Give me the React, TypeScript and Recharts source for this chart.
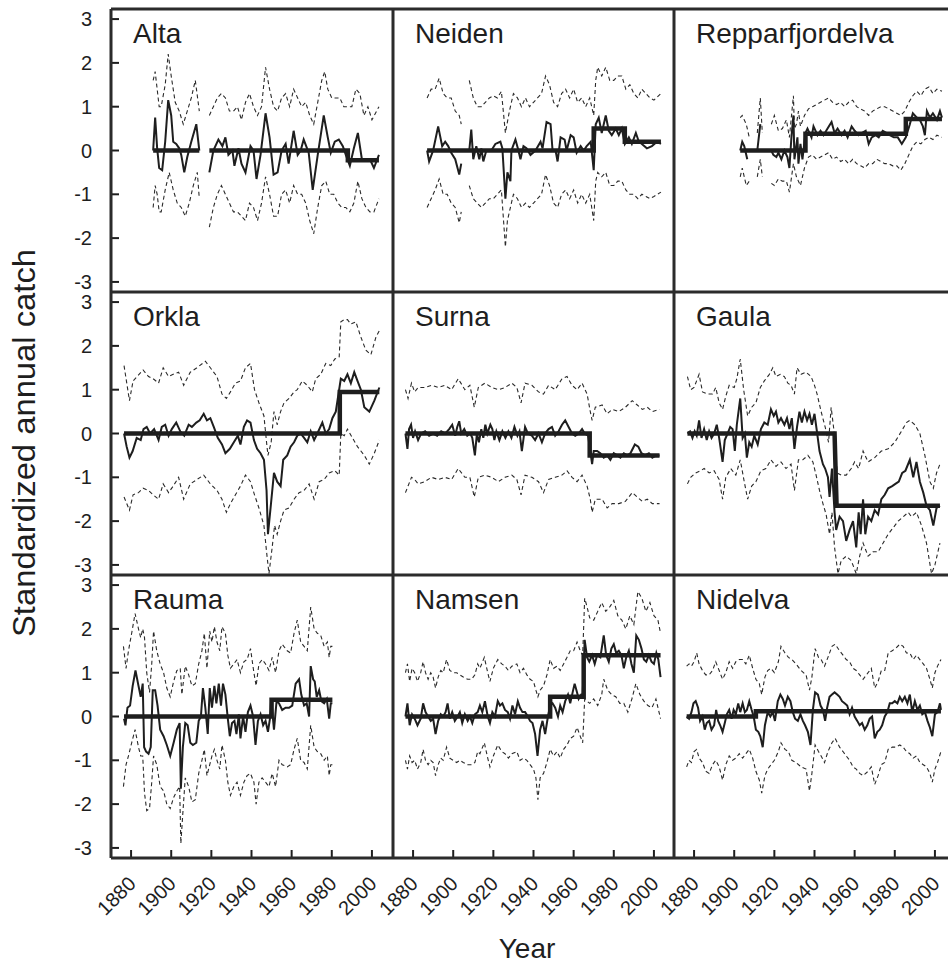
import { LineChart, Line, XAxis, YAxis } from "recharts";

type Pt = [number, number | null];

const INK = "#1e1e1e";
const FONT = "'Liberation Sans', Arial, Helvetica, sans-serif";

const YEAR_TICKS = [1880, 1900, 1920, 1940, 1960, 1980, 2000];
const CATCH_TICKS = [-3, -2, -1, 0, 1, 2, 3];

// Alta
const altaObs: Pt[] = [
  [1891, 0.0], [1892, 0.75], [1893, 0.05], [1894, -0.4], [1895.5, -0.45], [1897, 0.2], [1898.5, 1.15], [1900, 0.8],
  [1901, 0.2], [1902.5, 0.15], [1904, 0.05], [1905, -0.1], [1906.5, -0.5], [1908, -0.15], [1910, 0.2], [1912.5, 0.6],
  [1914, 0.0], [1916, null],
  [1919, -0.5], [1921, 0.0], [1923.5, 0.25], [1925.5, 0.1], [1927, 0.3], [1928.5, -0.1], [1930.5, 0.0], [1931.5, -0.35],
  [1933.5, 0.05], [1935, -0.3], [1937, -0.5], [1939.5, 0.1], [1941, 0.0], [1942.5, -0.65], [1944.5, -0.1], [1947, 0.85],
  [1949, 0.3], [1951, -0.55], [1953, -0.5], [1955, 0.0], [1957, 0.15], [1958.5, -0.3], [1961, 0.45], [1963, -0.1],
  [1964.5, 0.0], [1966, 0.25], [1968.5, -0.05], [1970.5, -0.9], [1973, -0.1], [1976, 0.8], [1978, 0.3], [1979.5, -0.05],
  [1981.5, 0.2], [1983.5, 0.25], [1985.5, 0.1], [1987, -0.1], [1989, -0.35], [1991, 0.05], [1993, 0.4], [1995, -0.2],
  [1997, -0.2], [1999, -0.2], [2001, -0.4], [2003.5, -0.1],
];
const altaFit: Pt[] = [[1891, 0], [1914, 0], [1916, null], [1919, 0], [1988, 0], [1988, -0.22], [2003.5, -0.22]];
const altaHi: Pt[] = [
  [1891, 1.6], [1892, 1.8], [1894, 1.0], [1895, 1.0], [1897, 1.5], [1898.5, 2.2], [1900, 1.7], [1902, 1.1], [1904, 0.9],
  [1906, 0.6], [1908, 0.9], [1910, 1.2], [1912, 1.6], [1914, 0.9], [1916, null],
  [1919, 0.8], [1921, 1.0], [1923, 1.2], [1925, 1.3], [1927, 1.2], [1929, 0.9], [1931, 0.9], [1933, 1.0], [1935, 0.7],
  [1937, 1.1], [1939, 1.3], [1941, 1.0], [1943, 0.8], [1945, 1.0], [1947, 1.9], [1949, 1.4], [1951, 1.0], [1953, 0.9],
  [1955, 1.2], [1957, 1.3], [1959, 1.0], [1961, 1.4], [1963, 1.2], [1965, 1.0], [1967, 1.1], [1969, 0.8], [1971, 0.6],
  [1973, 1.1], [1975, 1.6], [1976.5, 1.8], [1978, 1.4], [1980, 1.2], [1982, 1.2], [1984, 1.2], [1986, 1.0], [1988, 1.0],
  [1990, 1.0], [1992, 1.4], [1994, 1.3], [1996, 0.8], [1998, 1.0], [2000, 0.7], [2003.5, 1.0],
];
const altaLo: Pt[] = [
  [1891, -1.3], [1892, -0.8], [1893, -1.0], [1894, -1.4], [1895, -1.4], [1897, -0.9], [1899, -0.5], [1901, -0.9],
  [1903, -1.2], [1905, -1.3], [1907, -1.5], [1909, -1.2], [1911, -0.8], [1913, -0.5], [1914, -1.1], [1916, null],
  [1919, -1.75], [1921, -1.3], [1923, -1.0], [1925, -0.8], [1927, -1.0], [1929, -1.2], [1931, -1.4], [1933, -1.4],
  [1935, -1.5], [1937, -1.6], [1939, -1.2], [1941, -1.3], [1943, -1.6], [1945, -1.2], [1947, -0.6], [1949, -1.0],
  [1951, -1.5], [1953, -1.5], [1955, -1.0], [1957, -0.9], [1959, -1.2], [1961, -0.8], [1963, -1.0], [1965, -1.0],
  [1967, -1.2], [1969, -1.6], [1971, -1.9], [1973, -1.3], [1975, -0.8], [1977, -0.7], [1979, -1.0], [1981, -1.0],
  [1983, -1.2], [1985, -1.3], [1987, -1.3], [1989, -1.4], [1991, -1.2], [1993, -0.7], [1995, -1.1], [1997, -1.3],
  [1999, -1.4], [2001, -1.4], [2003.5, -1.1],
];

// Neiden
const neidenObs: Pt[] = [
  [1887, 0.0], [1888, -0.25], [1890, 0.0], [1892.5, 0.55], [1894.5, 0.1], [1896, 0.2], [1897.5, 0.1], [1899, -0.05],
  [1901, -0.2], [1903, -0.55], [1904, -0.3], [1906, null], [1908, 0.0], [1909, 0.48], [1910, -0.2], [1911.5, 0.1],
  [1913, -0.2], [1914, 0.05], [1915, -0.25], [1916.5, 0.0], [1919, 0.0], [1921, 0.15], [1923.5, 0.2], [1924.5, 0.05],
  [1926, -1.1], [1927, -0.5], [1928.5, -0.7], [1929, 0.0], [1931, 0.25], [1932.5, 0.0], [1933.5, -0.2], [1935, 0.1],
  [1936.5, 0.05], [1938.5, -0.1], [1941, 0.0], [1943.5, 0.2], [1944.5, 0.05], [1946.5, 0.65], [1948.5, 0.6],
  [1949.5, 0.0], [1951, 0.0], [1952, -0.25], [1953.5, 0.3], [1955.5, 0.25], [1956.5, 0.0], [1958.5, 0.35], [1960, 0.3],
  [1961.5, -0.05], [1963.5, 0.1], [1965, 0.0], [1966.5, 0.1], [1968.5, 0.2], [1970, -0.45], [1971, 0.6], [1972.5, 0.75],
  [1974, 0.4], [1976, 0.8], [1977.5, 0.45], [1979, 0.35], [1981, 0.5], [1982.5, 0.35], [1984, 0.5], [1985.5, 0.15],
  [1987.5, 0.3], [1989, 0.15], [1991, 0.4], [1992.5, 0.2], [1994, 0.15], [1996.5, 0.05], [1999, 0.1], [2001.5, 0.2],
  [2003.5, 0.15],
];
const neidenFit: Pt[] = [[1887, 0], [1970, 0], [1970, 0.5], [1985.5, 0.5], [1985.5, 0.2], [2003.5, 0.2]];
const neidenHi: Pt[] = [
  [1887, 1.2], [1889, 1.4], [1891, 1.4], [1893, 1.65], [1895, 1.3], [1897, 1.2], [1899, 1.2], [1901, 0.9], [1903, 0.8],
  [1904, 0.6], [1906, null], [1908, 1.6], [1910, 1.2], [1912, 1.0], [1914, 1.0], [1916, 1.1], [1918, 1.2], [1920, 1.25],
  [1922, 1.2], [1924, 1.35], [1926, 0.4], [1928, 0.9], [1930, 1.3], [1932, 1.2], [1934, 1.0], [1936, 1.2], [1938, 1.0],
  [1940, 1.1], [1942, 1.2], [1944, 1.3], [1946, 1.7], [1948, 1.5], [1950, 1.1], [1952, 1.0], [1954, 1.3], [1956, 1.4],
  [1958, 1.2], [1960, 1.4], [1962, 1.1], [1964, 1.2], [1966, 1.0], [1968, 1.2], [1970, 0.8], [1971, 1.6], [1972, 1.9],
  [1974, 1.7], [1976, 1.9], [1978, 1.6], [1980, 1.6], [1982, 1.7], [1984, 1.7], [1986, 1.4], [1988, 1.5], [1990, 1.3],
  [1992, 1.2], [1994, 1.4], [1996, 1.3], [1998, 1.2], [2000, 1.15], [2003.5, 1.3],
];
const neidenLo: Pt[] = [
  [1887, -1.3], [1889, -1.1], [1891, -0.9], [1893, -0.65], [1895, -1.0], [1897, -1.0], [1899, -1.2], [1901, -1.3],
  [1903, -1.65], [1904, -1.4], [1906, null], [1908, -0.8], [1910, -1.1], [1912, -1.2], [1914, -1.3], [1916, -1.2],
  [1918, -1.1], [1920, -1.1], [1922, -1.0], [1924, -0.9], [1926, -2.2], [1927, -1.6], [1928, -1.4], [1930, -1.0],
  [1932, -1.1], [1934, -1.3], [1936, -1.2], [1938, -1.3], [1940, -1.2], [1942, -1.1], [1944, -1.0], [1946, -0.55],
  [1948, -0.8], [1950, -1.2], [1952, -1.3], [1954, -1.0], [1956, -0.9], [1958, -1.1], [1960, -0.9], [1962, -1.2],
  [1964, -1.0], [1966, -1.2], [1968, -1.0], [1970, -1.6], [1971, -0.7], [1972, -0.5], [1974, -0.6], [1976, -0.5],
  [1978, -0.8], [1980, -0.8], [1982, -0.7], [1984, -0.7], [1986, -0.9], [1988, -1.0], [1990, -1.0], [1992, -1.1],
  [1994, -1.0], [1996, -1.05], [1998, -1.1], [2000, -1.05], [2003.5, -0.95],
];

// Repparfjordelva
const reppObs: Pt[] = [
  [1903, 0.0], [1904, 0.2], [1905, 0.1], [1906.5, -0.2], [1908, null], [1911.5, 0.0], [1913, 0.6], [1914, null],
  [1918.5, 0.0], [1919.5, -0.1], [1921, -0.15], [1922, -0.05], [1923.5, -0.2], [1925, 0.0], [1926.5, -0.15],
  [1927.5, -0.4], [1928.5, 0.3], [1929.5, 0.8], [1930, -0.2], [1931.5, 0.3], [1932, -0.3], [1933, 0.15], [1934, -0.2],
  [1935.5, 0.4], [1936.5, 0.5], [1938.5, 0.3], [1939.5, 0.55], [1941.5, 0.35], [1943, 0.45], [1944.5, 0.35],
  [1946.5, 0.5], [1948.5, 0.65], [1950, 0.4], [1951.5, 0.5], [1953.5, 0.35], [1955, 0.45], [1956.5, 0.3],
  [1958.5, 0.55], [1960, 0.45], [1962, 0.35], [1963.5, 0.4], [1965.5, 0.45], [1967, 0.15], [1968.5, 0.3],
  [1970.5, 0.35], [1972, 0.3], [1974, 0.45], [1976, 0.4], [1977.5, 0.35], [1979.5, 0.3], [1981.5, 0.3], [1983.5, 0.15],
  [1985.5, 0.3], [1987.5, 0.6], [1989, 0.85], [1991, 0.75], [1992.5, 0.7], [1994, 0.55], [1995, 0.35], [1996, 0.9],
  [1997.5, 0.75], [1999, 0.85], [2001, 0.7], [2002.5, 0.9], [2003.5, 0.75],
];
const reppFit: Pt[] = [[1903, 0], [1935.5, 0], [1935.5, 0.38], [1985.5, 0.38], [1985.5, 0.72], [2003.5, 0.72]];
const reppHi: Pt[] = [
  [1903, 0.75], [1904, 0.8], [1906, 0.6], [1907.5, 0.3], [1909, null], [1911.5, 0.4], [1913, 1.2], [1914, 0.4],
  [1916, null], [1918.5, 0.6], [1920, 0.8], [1922, 0.45], [1924, 0.5], [1926, 0.7], [1927.5, 0.3], [1929.5, 1.25],
  [1930, 0.5], [1931, 0.6], [1932, 0.9], [1933, 0.55], [1935, 0.8], [1937, 0.95], [1939, 1.0], [1941, 1.05],
  [1943, 1.1], [1945, 1.15], [1947, 1.2], [1949, 1.1], [1951, 1.05], [1953, 1.1], [1955, 1.0], [1957, 1.1],
  [1959, 1.15], [1961, 1.0], [1963, 0.95], [1965, 0.9], [1967, 0.8], [1969, 0.9], [1971, 0.95], [1973, 1.0],
  [1975, 1.0], [1977, 0.95], [1979, 0.9], [1981, 0.85], [1983, 0.8], [1985, 0.9], [1987, 1.1], [1989, 1.25],
  [1991, 1.35], [1993, 1.25], [1995, 1.4], [1997, 1.45], [1999, 1.3], [2001, 1.4], [2003.5, 1.35],
];
const reppLo: Pt[] = [
  [1903, -0.6], [1904, -0.4], [1905, -0.6], [1906, -0.8], [1907.5, -0.7], [1909, null], [1911.5, -0.6], [1913, -0.2],
  [1914, -0.6], [1916, null], [1918.5, -0.75], [1920, -0.8], [1922, -0.65], [1924, -0.7], [1926, -0.7],
  [1927.5, -0.95], [1929.5, -0.3], [1931, -0.6], [1933, -0.8], [1935, -0.4], [1937, -0.15], [1939, -0.1],
  [1941, -0.2], [1943, -0.15], [1945, -0.1], [1947, -0.05], [1949, -0.2], [1951, -0.15], [1953, -0.25], [1955, -0.2],
  [1957, -0.3], [1959, -0.2], [1961, -0.3], [1963, -0.35], [1965, -0.4], [1967, -0.3], [1969, -0.3], [1971, -0.2],
  [1973, -0.25], [1975, -0.3], [1977, -0.3], [1979, -0.35], [1981, -0.35], [1983, -0.45], [1985, -0.3], [1987, -0.1],
  [1989, 0.1], [1991, 0.2], [1993, 0.15], [1995, 0.25], [1997, 0.3], [1999, 0.25], [2001, 0.35], [2003.5, 0.3],
];

// Orkla
const orklaObs: Pt[] = [
  [1876.5, 0.0], [1877.8, -0.3], [1879.2, -0.55], [1880.8, -0.4], [1882.8, -0.1], [1884.8, -0.15], [1886.2, 0.1],
  [1887.8, 0.15], [1889.5, 0.0], [1891.5, 0.1], [1893.7, -0.15], [1895.3, 0.15], [1897, 0.2], [1898.7, -0.05],
  [1900.3, 0.1], [1902.5, 0.25], [1904.5, 0.05], [1906.5, -0.05], [1908.7, 0.2], [1910.3, 0.15], [1912.5, 0.25],
  [1914.2, 0.3], [1916.2, 0.45], [1917.8, 0.3], [1919.5, 0.35], [1921.2, 0.15], [1923.2, -0.1], [1925.3, -0.25],
  [1927, -0.45], [1929.2, -0.35], [1931.2, -0.2], [1933.2, -0.05], [1934.5, -0.25], [1936.2, 0.15], [1937.8, 0.3],
  [1939.5, 0.25], [1941.2, -0.15], [1942.8, -0.35], [1944.5, -0.45], [1946.2, -0.6], [1947.5, -1.3], [1948.2, -2.3],
  [1949.5, -1.7], [1951.2, -0.9], [1952.8, -1.1], [1954.5, -1.2], [1955.8, -0.6], [1957.8, -0.5], [1959.5, -0.3],
  [1961.2, -0.2], [1962.8, -0.05], [1964.5, 0.0], [1966.2, -0.1], [1967.8, -0.2], [1969.5, 0.05], [1971.2, -0.15],
  [1972.8, 0.0], [1975.3, 0.25], [1977, 0.0], [1978.7, 0.1], [1980.3, 0.35], [1982, 0.5], [1984.5, 1.25],
  [1986.2, 1.2], [1987.8, 1.35], [1989.5, 1.15], [1991.2, 1.4], [1992.8, 1.2], [1994.5, 1.0], [1996.2, 0.6],
  [1998.7, 0.5], [2001.2, 0.75], [2003.7, 1.05],
];
const orklaFit: Pt[] = [[1876.5, 0], [1984, 0], [1984, 0.95], [2003.7, 0.95]];
const orklaHi: Pt[] = [
  [1876.5, 1.55], [1879.2, 0.75], [1881, 1.2], [1883, 1.3], [1886, 1.45], [1888.7, 1.3], [1891, 1.25], [1893.7, 1.15],
  [1896, 1.5], [1898.7, 1.3], [1901, 1.35], [1903.7, 1.4], [1906.2, 1.1], [1909.5, 1.4], [1912.8, 1.5], [1917, 1.65],
  [1919.5, 1.5], [1922.8, 1.3], [1925.3, 0.9], [1927.5, 0.8], [1929.5, 0.95], [1932, 1.15], [1934.5, 1.2],
  [1937, 1.5], [1939.5, 1.6], [1941.5, 1.0], [1943.7, 0.7], [1946.2, 0.4], [1947.5, -0.2], [1948.2, -0.5],
  [1949.8, -0.2], [1951.2, 0.5], [1952.8, 0.2], [1954.5, 0.5], [1956.2, 0.7], [1958.7, 0.8], [1961.2, 0.95],
  [1962.8, 1.0], [1965.3, 1.2], [1967.8, 1.1], [1970.3, 0.95], [1972, 1.25], [1974.5, 1.35], [1977, 1.6],
  [1979.5, 1.55], [1981.5, 1.7], [1983.7, 1.75], [1984.5, 2.55], [1986.2, 2.6], [1987.8, 2.6], [1989.5, 2.5],
  [1992, 2.55], [1994.5, 2.2], [1997, 1.9], [1999.5, 1.8], [2002, 2.2], [2003.7, 2.35],
];
const orklaLo: Pt[] = [
  [1876.5, -1.45], [1879.2, -1.75], [1881, -1.4], [1883.7, -1.35], [1886, -1.25], [1888.7, -1.3], [1891, -1.4],
  [1893.7, -1.5], [1896, -1.15], [1898.7, -1.35], [1901, -1.2], [1903.7, -1.0], [1906.2, -1.5], [1909.5, -1.15],
  [1912.8, -1.05], [1916.2, -0.95], [1919.5, -1.15], [1922.8, -1.3], [1925.3, -1.5], [1927.5, -1.8], [1929.5, -1.6],
  [1932, -1.4], [1934.5, -1.2], [1937, -0.95], [1939.5, -1.1], [1941.5, -1.4], [1943.7, -1.7], [1946.2, -2.1],
  [1947.5, -2.7], [1948.7, -3.2], [1950.3, -2.6], [1951.5, -2.1], [1952.8, -2.3], [1954.5, -2.0], [1956.2, -1.75],
  [1958.7, -1.7], [1961.2, -1.5], [1963.7, -1.35], [1966.2, -1.3], [1968.7, -1.15], [1971.2, -1.5], [1973.7, -1.1],
  [1976.2, -1.05], [1978.7, -0.9], [1981.5, -0.85], [1983.7, -0.95], [1984.5, 0.0], [1986.2, -0.05], [1987.8, 0.1],
  [1990.3, -0.1], [1992.8, -0.3], [1996.2, -0.5], [1998.7, -0.7], [2001.2, -0.45], [2003.7, -0.15],
];

// Surna
const surnaObs: Pt[] = [
  [1876.2, 0.0], [1877.2, -0.35], [1878, 0.1], [1879, 0.2], [1880, -0.1], [1881, 0.05], [1882.5, -0.15], [1884, 0.0],
  [1886, 0.05], [1888, -0.05], [1890, 0.0], [1892, -0.05], [1894, 0.05], [1896, 0.0], [1898, 0.1], [1899.5, 0.2],
  [1901, -0.05], [1902, 0.15], [1903, 0.28], [1904, 0.0], [1905.5, 0.1], [1907, -0.05], [1908.5, 0.0], [1909.5, -0.1],
  [1910.8, -0.5], [1911.8, 0.0], [1912.8, -0.2], [1914, 0.1], [1915, -0.1], [1916, 0.2], [1917, 0.0], [1918.5, 0.2],
  [1919.5, 0.1], [1920.5, -0.15], [1921.5, 0.05], [1923, -0.15], [1924.5, 0.05], [1926, -0.1], [1927.5, 0.05],
  [1929, -0.1], [1930.5, 0.15], [1932, -0.05], [1933, 0.05], [1934.2, -0.4], [1935.8, 0.15], [1937.2, 0.0],
  [1939.2, -0.05], [1940.8, -0.15], [1942.5, 0.0], [1944.2, -0.2], [1945.8, 0.0], [1947.5, 0.1], [1949.2, 0.15],
  [1950.8, -0.05], [1952.5, 0.05], [1954.2, 0.2], [1955.8, 0.3], [1957.5, 0.15], [1959.2, 0.0], [1960.8, -0.05],
  [1962.5, 0.0], [1964.2, 0.1], [1965.5, 0.0], [1967.2, -0.05], [1968.3, -0.4], [1969.2, -0.7], [1970, -0.4],
  [1971.7, -0.4], [1973.3, -0.45], [1975, -0.55], [1976.7, -0.5], [1978.3, -0.6], [1980, -0.45], [1981.7, -0.5],
  [1983.3, -0.55], [1985, -0.45], [1986.7, -0.5], [1988.3, -0.45], [1990.5, -0.25], [1992.2, -0.3], [1993.8, -0.45],
  [1995.5, -0.5], [1997.5, -0.45], [1999.2, -0.55], [2001.2, -0.5], [2002.8, -0.5],
];
const surnaFit: Pt[] = [[1876.2, 0], [1968, 0], [1968, -0.5], [2002.8, -0.5]];
const surnaHi: Pt[] = [
  [1876.2, 1.0], [1877.5, 0.8], [1879.2, 1.15], [1880.8, 0.95], [1882.5, 1.05], [1885.8, 1.05], [1889.2, 1.1],
  [1892.5, 1.05], [1895.8, 1.1], [1899.2, 1.0], [1902.5, 1.25], [1905.8, 1.0], [1908.3, 1.1], [1910.5, 0.6],
  [1912.5, 1.05], [1915.8, 1.15], [1919.2, 1.05], [1922.5, 1.0], [1925.8, 1.05], [1929.2, 1.15], [1931.7, 1.05],
  [1933.8, 0.7], [1935.8, 1.15], [1939.2, 1.1], [1942.5, 0.95], [1945, 0.9], [1947.5, 1.1], [1950.8, 1.0],
  [1954.2, 1.25], [1956.7, 1.3], [1959.2, 1.1], [1961.7, 1.0], [1964.2, 1.15], [1966.7, 0.9], [1968.3, 0.5],
  [1969.2, 0.3], [1970.8, 0.6], [1974.2, 0.65], [1976.7, 0.45], [1979.2, 0.55], [1982.5, 0.5], [1985.8, 0.6],
  [1989.2, 0.75], [1991.7, 0.65], [1994.2, 0.55], [1996.7, 0.6], [1999.2, 0.5], [2002.8, 0.55],
];
const surnaLo: Pt[] = [
  [1876.2, -1.35], [1877.5, -1.2], [1879.2, -1.0], [1880.8, -1.05], [1882.5, -1.15], [1885.8, -1.1], [1889.2, -1.0],
  [1892.5, -1.05], [1895.8, -1.0], [1899.2, -1.05], [1902.5, -0.8], [1905.8, -1.0], [1908.3, -1.0], [1910.5, -1.45],
  [1912.5, -1.0], [1915.8, -0.95], [1919.2, -1.0], [1922.5, -1.1], [1925.8, -1.0], [1929.2, -0.95], [1931.7, -1.05],
  [1933.8, -1.4], [1935.8, -0.95], [1939.2, -1.0], [1942.5, -1.1], [1945, -1.35], [1947.5, -1.05], [1950.8, -1.0],
  [1954.2, -0.95], [1956.7, -0.85], [1959.2, -1.0], [1961.7, -1.1], [1964.2, -0.95], [1966.7, -1.2], [1968.3, -1.5],
  [1969.2, -1.8], [1970.8, -1.5], [1974.2, -1.5], [1976.7, -1.7], [1979.2, -1.6], [1982.5, -1.6], [1985.8, -1.55],
  [1989.2, -1.35], [1991.7, -1.45], [1994.2, -1.55], [1996.7, -1.5], [1999.2, -1.6], [2002.8, -1.6],
];

// Gaula
const gaulaObs: Pt[] = [
  [1876.7, 0.0], [1878, 0.05], [1879.2, -0.1], [1880.3, 0.05], [1881.3, -0.05], [1882.5, 0.3], [1883.7, -0.1],
  [1885, 0.1], [1886.3, -0.15], [1887.5, 0.05], [1888.7, -0.1], [1890, 0.0], [1891.3, 0.2], [1892.5, -0.1],
  [1894.2, -0.65], [1895.3, -0.15], [1896.7, 0.0], [1898, 0.15], [1899.2, 0.1], [1900.3, -0.4], [1901.3, 0.2],
  [1903, 0.8], [1904.2, -0.1], [1905.3, 0.0], [1906.3, -0.55], [1907.5, -0.2], [1908.7, -0.3], [1910, -0.05],
  [1911.7, -0.25], [1913.3, 0.1], [1915, 0.25], [1916.7, 0.2], [1918.3, 0.55], [1919.7, 0.4], [1920.8, 0.5],
  [1922, 0.25], [1923.3, 0.35], [1925, 0.2], [1926.3, 0.35], [1927.5, 0.1], [1928.7, 0.35], [1930, -0.35],
  [1931.3, 0.15], [1932.5, 0.5], [1933.7, 0.25], [1935, 0.5], [1936.3, 0.3], [1937.5, 0.45], [1938.7, 0.2],
  [1940, 0.45], [1941.2, 0.05], [1942.5, -0.4], [1944.2, -0.7], [1945.3, -0.8], [1946.7, -1.0], [1947.5, -1.45],
  [1948.7, -0.8], [1950, -1.8], [1950.8, -2.2], [1952.5, -1.9], [1954.2, -2.0], [1955.8, -2.45], [1957.5, -2.2],
  [1959.2, -2.0], [1960.8, -2.6], [1962, -1.8], [1963, -2.3], [1964.2, -1.5], [1965.3, -2.3], [1966.7, -1.9],
  [1968.3, -2.0], [1970, -1.75], [1971.7, -1.85], [1973.3, -1.5], [1975, -1.4], [1976.7, -1.25], [1978.7, -1.2],
  [1980.3, -1.15], [1982, -1.1], [1983.7, -0.9], [1985.3, -0.85], [1987.5, -0.6], [1989.2, -1.0], [1990.8, -0.65],
  [1992.5, -1.1], [1994.2, -1.35], [1995.8, -1.65], [1997.5, -1.75], [1999.2, -2.1], [2000.8, -1.7], [2002.5, -1.65],
];
const gaulaFit: Pt[] = [[1876.7, 0], [1950, 0], [1951, -1.65], [2002.5, -1.65]];
const gaulaHi: Pt[] = [
  [1876.7, 1.3], [1878.3, 1.0], [1880, 1.05], [1882.5, 1.35], [1884.2, 0.95], [1886.7, 0.9], [1889.2, 0.9],
  [1890.8, 1.05], [1892.5, 0.7], [1894.2, 0.55], [1895.8, 0.85], [1897.5, 1.1], [1900, 1.05], [1901.3, 1.25],
  [1903, 1.7], [1904.7, 1.0], [1906.7, 0.4], [1908.7, 0.6], [1910.8, 0.7], [1913, 1.05], [1915, 1.2], [1917.5, 1.35],
  [1919.2, 1.5], [1920.8, 1.3], [1923, 1.35], [1925, 1.3], [1926.7, 1.15], [1928.3, 1.1], [1930, 0.9], [1931.3, 1.5],
  [1933.3, 1.35], [1935.8, 1.4], [1938.3, 1.3], [1940, 1.1], [1941.3, 0.9], [1943.3, 0.5], [1945.3, 0.15],
  [1947, -0.2], [1948.3, 0.6], [1950, -0.05], [1951.3, -0.9], [1953.3, -0.95], [1955.8, -0.95], [1958.3, -0.8],
  [1960, -0.65], [1962, -0.8], [1964.2, -0.4], [1966.7, -0.65], [1970, -0.55], [1973.3, -0.4], [1976.7, -0.35],
  [1980, -0.2], [1983.3, 0.05], [1985.8, 0.25], [1987.5, 0.3], [1990, 0.2], [1992.5, 0.0], [1995, -0.5],
  [1997.5, -1.1], [1999.2, -1.25], [2000.8, -0.9], [2002.5, -0.7],
];
const gaulaLo: Pt[] = [
  [1876.7, -1.15], [1878.3, -1.0], [1880.8, -0.9], [1883.3, -0.85], [1885, -0.8], [1887.5, -0.9], [1890, -0.85],
  [1892.5, -1.05], [1894.2, -1.5], [1895.8, -1.0], [1898.3, -0.8], [1900.8, -0.95], [1903, -0.6], [1905, -1.1],
  [1906.7, -1.5], [1908.7, -1.2], [1910.8, -1.1], [1913.3, -0.85], [1915.8, -0.8], [1918.3, -0.6], [1920.8, -0.75],
  [1923.3, -0.65], [1925.8, -0.8], [1928.3, -0.7], [1930, -1.3], [1932, -0.6], [1934.2, -0.6], [1936.7, -0.5],
  [1939.2, -0.65], [1940.8, -0.95], [1942.5, -1.3], [1944.2, -1.6], [1945.8, -1.85], [1947.5, -2.3], [1948.7, -1.8],
  [1950, -2.6], [1951.7, -3.2], [1953.3, -2.9], [1955.8, -2.8], [1958.3, -2.9], [1960.8, -3.2], [1962.5, -2.8],
  [1964.2, -2.5], [1966.7, -2.8], [1969.2, -2.7], [1971.7, -2.7], [1974.2, -2.5], [1976.7, -2.3], [1979.2, -2.15],
  [1981.7, -2.0], [1984.2, -1.9], [1986.7, -1.8], [1988.3, -1.9], [1990.8, -1.8], [1993.3, -2.1], [1995.8, -2.5],
  [1998.3, -3.2], [2000, -3.0], [2002.5, -2.5],
];

// Rauma
const raumaObs: Pt[] = [
  [1876.5, -0.05], [1877.2, -0.2], [1878.2, 0.2], [1879.5, 0.25], [1880.8, 0.7], [1882.2, 1.05], [1883.7, 0.7],
  [1884.8, 0.45], [1885.8, 0.75], [1886.5, -0.7], [1887.5, -0.8], [1888.7, -0.85], [1889.8, -0.7], [1890.8, 0.6],
  [1892, 0.6], [1893.2, 0.25], [1894.5, -0.3], [1896.2, -0.45], [1897.8, -0.65], [1899.5, -0.9], [1901.2, -0.6],
  [1902.8, -0.3], [1904.2, -0.15], [1904.8, -1.65], [1905.8, -0.7], [1907, -0.15], [1908.2, -0.2], [1909.5, -0.6],
  [1910.8, -0.65], [1912.5, -0.6], [1913.7, -0.1], [1914.8, 0.0], [1915.8, 0.65], [1917, 0.2], [1918.2, -0.4],
  [1919.2, 0.65], [1920.3, 0.2], [1921.5, 0.7], [1922.5, 0.3], [1923.7, 0.75], [1924.8, 0.25], [1925.8, 0.75],
  [1927, 0.5], [1928.2, -0.05], [1929.2, -0.45], [1930.3, -0.15], [1931.5, -0.1], [1932.5, -0.4], [1933.7, 0.05],
  [1934.5, -0.5], [1935.8, 0.0], [1937, -0.35], [1938.2, 0.1], [1939.5, 0.25], [1940.8, 0.0], [1942, -0.65],
  [1943.2, -0.1], [1944.5, 0.05], [1945.8, -0.2], [1947, -0.1], [1948.2, -0.35], [1949.2, -0.05], [1949.8, 0.4],
  [1951.2, -0.3], [1952.5, 0.35], [1953.7, 0.3], [1955.3, 0.15], [1957, 0.2], [1958.7, 0.2], [1960.3, 0.25],
  [1962, 0.75], [1963.7, 0.85], [1964.8, 0.5], [1966.2, 0.25], [1967.5, 0.3], [1968.7, 0.0], [1969.5, 1.15],
  [1970.7, 0.85], [1971.5, 0.8], [1972.5, 0.45], [1973.7, 0.6], [1974.8, 0.35], [1976.2, 0.3], [1977.5, 0.4],
  [1978.7, -0.05], [1979.5, 0.3], [1980.3, 0.3],
];
const raumaFit: Pt[] = [[1876.5, 0], [1950, 0], [1950, 0.38], [1980.3, 0.38]];
const raumaHi: Pt[] = [
  [1876.2, 1.6], [1877.5, 1.1], [1878.7, 1.5], [1880.3, 1.9], [1882, 2.35], [1883.7, 2.0], [1884.8, 1.8],
  [1885.8, 2.0], [1886.7, 1.8], [1887.8, 1.0], [1889.2, 0.55], [1890.3, 1.2], [1891.2, 1.95], [1892.8, 1.5],
  [1894.5, 1.2], [1896.2, 1.0], [1897.8, 0.65], [1899.5, 0.45], [1901.2, 0.8], [1902.8, 1.05], [1904.5, 1.1],
  [1905.3, 0.5], [1907, 1.15], [1908.7, 0.95], [1910.3, 0.7], [1912, 0.75], [1913.7, 1.2], [1915.3, 1.5],
  [1916.5, 1.9], [1917.8, 1.1], [1919.2, 1.95], [1920.3, 1.7], [1921.5, 2.05], [1922.8, 1.7], [1924.2, 1.5],
  [1925.3, 2.05], [1927, 1.9], [1928.2, 1.4], [1929.5, 1.1], [1931.2, 1.2], [1932.8, 1.3], [1934.5, 1.0],
  [1936.2, 1.25], [1937.8, 1.3], [1939.5, 1.55], [1941.2, 1.0], [1942.3, 0.7], [1943.7, 1.2], [1945.3, 1.3],
  [1947, 1.2], [1948.7, 1.05], [1950.3, 1.35], [1952, 1.0], [1953.7, 1.5], [1955.3, 1.65], [1957.8, 1.5],
  [1959.5, 1.45], [1961.2, 1.9], [1962.8, 2.2], [1964.5, 1.7], [1966.2, 1.6], [1967.8, 1.5], [1969.5, 2.5],
  [1971.2, 2.0], [1972.8, 1.9], [1974.5, 1.85], [1976.2, 1.6], [1977.8, 1.7], [1978.7, 1.35], [1979.5, 1.6],
  [1980.3, 1.6],
];
const raumaLo: Pt[] = [
  [1876.2, -1.6], [1877.5, -1.1], [1878.7, -0.9], [1880.3, -0.6], [1882, -0.3], [1883.7, -0.7], [1884.8, -0.9],
  [1885.8, -0.9], [1886.7, -1.75], [1887.8, -2.15], [1889.2, -2.1], [1890.3, -1.5], [1891.2, -0.9], [1892.8, -1.1],
  [1894.5, -1.6], [1896.2, -1.7], [1897.8, -2.0], [1899.5, -2.1], [1901.2, -1.85], [1902.8, -1.7], [1904.2, -1.6],
  [1904.8, -2.9], [1905.8, -2.2], [1907, -1.4], [1908.7, -1.6], [1910.3, -1.95], [1912, -1.9], [1913.7, -1.3],
  [1915.3, -1.0], [1916.5, -0.75], [1917.8, -1.35], [1919.2, -1.1], [1920.3, -0.9], [1921.5, -0.75], [1922.8, -1.0],
  [1924.2, -1.2], [1925.3, -0.65], [1927, -1.0], [1928.2, -1.5], [1929.5, -1.8], [1931.2, -1.6], [1932.8, -1.5],
  [1934.5, -1.8], [1936.2, -1.5], [1937.8, -1.35], [1939.5, -1.3], [1941.2, -1.5], [1942.3, -2.0], [1943.7, -1.5],
  [1945.3, -1.4], [1947, -1.5], [1948.7, -1.6], [1950.3, -1.3], [1952, -1.6], [1953.7, -1.0], [1955.3, -1.1],
  [1957.8, -1.15], [1959.5, -1.1], [1961.2, -0.75], [1962.8, -0.5], [1964.5, -1.0], [1966.2, -1.05], [1967.8, -1.2],
  [1969.5, -0.2], [1971.2, -0.7], [1972.8, -0.8], [1974.5, -0.85], [1976.2, -1.0], [1977.8, -0.9], [1978.7, -1.35],
  [1979.5, -1.1], [1980.3, -1.1],
];

// Namsen
const namsenObs: Pt[] = [
  [1876.2, 0.0], [1877.2, 0.3], [1878.3, -0.2], [1879.5, 0.05], [1880.8, -0.05], [1882.2, -0.2], [1883.8, -0.05],
  [1885, 0.3], [1886.2, 0.1], [1887.5, 0.0], [1888.8, -0.1], [1890, -0.05], [1891.2, -0.4], [1892.5, -0.1],
  [1893.8, 0.05], [1895, 0.0], [1896.2, 0.1], [1897.2, 0.3], [1898.3, -0.05], [1899.5, 0.1], [1900.8, -0.1],
  [1902.2, 0.0], [1903.3, 0.1], [1904.5, -0.15], [1905.8, 0.05], [1907.2, -0.1], [1908.3, 0.0], [1909.5, -0.15],
  [1910.8, 0.05], [1912.2, 0.1], [1913.3, 0.25], [1914.5, 0.1], [1915.8, 0.35], [1917.2, 0.0], [1918.3, -0.15],
  [1919.5, 0.1], [1920.8, 0.0], [1922.2, 0.35], [1923.3, 0.25], [1924.5, 0.3], [1925.8, 0.15], [1927.2, 0.1],
  [1928.3, -0.05], [1929.5, 0.25], [1930.8, 0.05], [1932.2, 0.35], [1933.3, 0.2], [1934.5, 0.1], [1935.8, 0.1],
  [1937.2, 0.0], [1938.3, -0.1], [1939.5, -0.15], [1940.8, -0.4], [1942, -0.9], [1943.3, -0.3], [1944.5, -0.1],
  [1945.8, -0.4], [1947.2, 0.0], [1948.3, 0.25], [1949.5, 0.3], [1950.8, 0.2], [1952.2, 0.0], [1953.3, 0.25],
  [1954.5, 0.1], [1955.8, 0.35], [1957.2, 0.5], [1958.3, 0.3], [1959.5, 0.55], [1960.5, 0.75], [1961.7, 0.55],
  [1962.5, 0.4], [1963.8, 0.5], [1964.5, 0.5], [1965.5, 1.75], [1966.7, 1.35], [1967.8, 1.25], [1969.2, 1.4],
  [1970.5, 1.2], [1971.7, 1.4], [1973.3, 1.35], [1975, 1.85], [1976.2, 1.4], [1977.5, 1.25], [1978.8, 1.55],
  [1980, 1.65], [1981.2, 1.45], [1982.5, 1.5], [1983.8, 1.4], [1985, 1.1], [1986.2, 1.35], [1987.5, 1.5],
  [1988.8, 1.2], [1990, 1.0], [1991.2, 1.85], [1992.5, 1.75], [1993.8, 1.55], [1995, 1.3], [1996.2, 1.25],
  [1997.5, 1.4], [1998.8, 1.25], [2000, 1.2], [2001.2, 1.45], [2002.2, 1.3], [2003.3, 0.9],
];
const namsenFit: Pt[] = [[1876.2, 0], [1948.3, 0], [1948.3, 0.45], [1965, 0.45], [1965, 1.4], [2003.3, 1.4]];
const namsenHi: Pt[] = [
  [1876.2, 1.0], [1877.2, 1.2], [1878.3, 0.8], [1879.5, 1.1], [1880.8, 1.0], [1882.2, 0.8], [1883.8, 1.0],
  [1885, 1.25], [1886.2, 1.0], [1887.5, 0.85], [1888.8, 1.0], [1890, 0.9], [1891.2, 0.65], [1892.5, 0.9],
  [1893.8, 1.05], [1895, 1.0], [1896.7, 1.3], [1898.3, 1.05], [1900, 1.0], [1901.7, 1.0], [1903.3, 0.95],
  [1905, 0.9], [1907.2, 0.85], [1909.2, 0.85], [1910.8, 0.95], [1912.2, 1.2], [1913.3, 1.1], [1915.5, 1.35],
  [1917.2, 1.0], [1918.3, 0.8], [1920, 1.1], [1922.2, 1.3], [1924.2, 1.2], [1925.8, 1.15], [1927.5, 1.05],
  [1929.2, 1.15], [1931.7, 1.2], [1933.3, 1.0], [1935, 1.1], [1936.7, 0.95], [1938.3, 0.85], [1940, 0.8],
  [1941.2, 0.6], [1942.2, 0.45], [1943.3, 0.6], [1945, 0.7], [1946.7, 0.95], [1948.3, 1.3], [1950, 1.1],
  [1951.7, 1.15], [1953.3, 1.05], [1955, 1.2], [1956.7, 1.35], [1958.3, 1.5], [1960, 1.5], [1961.7, 1.7],
  [1963.3, 1.5], [1964.5, 1.4], [1965.5, 2.7], [1966.7, 2.5], [1968, 2.25], [1970, 2.2], [1972, 2.4], [1974, 2.6],
  [1976, 2.4], [1978, 2.5], [1980, 2.65], [1982, 2.3], [1984, 2.2], [1986, 2.0], [1988, 2.3], [1990, 2.1],
  [1992, 2.85], [1994, 2.7], [1996, 2.4], [1998, 2.6], [2000, 2.3], [2002, 2.2], [2003.3, 1.9],
];
const namsenLo: Pt[] = [
  [1876.2, -1.0], [1877.2, -1.2], [1878.3, -0.9], [1879.5, -1.05], [1880.8, -1.0], [1882.2, -1.2], [1883.8, -1.05],
  [1885, -0.75], [1886.2, -1.0], [1887.5, -1.1], [1888.8, -1.0], [1890, -1.05], [1891.2, -1.35], [1892.5, -1.1],
  [1893.8, -0.95], [1895, -1.0], [1896.7, -0.7], [1898.3, -0.95], [1900, -1.0], [1901.7, -1.05], [1903.3, -1.0],
  [1905, -1.05], [1907.2, -1.1], [1909.2, -1.1], [1910.8, -1.05], [1912.2, -0.8], [1913.3, -0.85], [1915.5, -0.6],
  [1917.2, -0.95], [1918.3, -1.15], [1920, -0.9], [1922.2, -0.65], [1924.2, -0.8], [1925.8, -0.85], [1927.5, -0.95],
  [1929.2, -0.85], [1931.7, -0.8], [1933.3, -1.0], [1935, -0.95], [1936.7, -1.0], [1938.3, -1.1], [1940, -1.2],
  [1941.2, -1.4], [1942.2, -1.9], [1943.3, -1.4], [1945, -1.3], [1946.7, -1.05], [1948.3, -0.75], [1950, -0.9],
  [1951.7, -0.8], [1953.3, -0.95], [1955, -0.75], [1956.7, -0.65], [1958.3, -0.5], [1960, -0.45], [1961.7, -0.25],
  [1963.3, -0.45], [1964.5, -0.6], [1965.5, 0.4], [1966.7, 0.35], [1968, 0.3], [1970, 0.4], [1972, 0.25],
  [1974, 0.5], [1975, 0.85], [1977, 0.6], [1979, 0.5], [1981, 0.45], [1983, 0.3], [1985, 0.3], [1987, 0.1],
  [1989, 0.4], [1991, 0.75], [1993, 0.5], [1995, 0.35], [1997, 0.25], [1999, 0.2], [2001, 0.4], [2003.3, -0.05],
];

// Nidelva
const nidelvaObs: Pt[] = [
  [1876.3, 0.0], [1877.5, -0.05], [1878.7, 0.1], [1879.7, 0.3], [1880.8, 0.35], [1882, 0.2], [1883, -0.1],
  [1884.2, 0.0], [1885.3, -0.3], [1886.3, -0.15], [1887.5, -0.1], [1888.7, -0.3], [1890, -0.2], [1891, 0.15],
  [1892, -0.1], [1893, -0.2], [1894.2, -0.35], [1895.3, -0.15], [1896.3, 0.05], [1897.5, 0.15], [1898.7, -0.05],
  [1899.7, 0.15], [1900.8, 0.05], [1902, 0.3], [1903, 0.1], [1904.2, 0.3], [1905.3, 0.1], [1906.3, 0.15],
  [1907.5, 0.35], [1908.7, 0.15], [1909.7, 0.0], [1910.8, -0.3], [1912, -0.35], [1913, -0.45], [1914.2, -0.7],
  [1915.3, -0.2], [1916.7, 0.1], [1918, 0.0], [1919.2, 0.1], [1920.3, -0.1], [1921.7, 0.35], [1923, 0.5],
  [1924.2, 0.4], [1925.3, 0.25], [1926.7, 0.45], [1928, 0.35], [1929.2, 0.1], [1930.3, -0.05], [1931.7, -0.1],
  [1933, 0.05], [1934.2, -0.1], [1935.3, -0.2], [1936.7, -0.35], [1938, -0.65], [1939.2, 0.15], [1940.3, 0.55],
  [1941.7, 0.5], [1943, 0.25], [1944.2, 0.15], [1945.3, -0.1], [1946.3, 0.2], [1947.5, 0.45], [1948.7, 0.5],
  [1950, 0.55], [1951.3, 0.5], [1952.5, 0.45], [1953.7, 0.35], [1955, 0.3], [1956.3, 0.25], [1957.5, 0.05],
  [1958.7, 0.2], [1960, 0.0], [1961.3, -0.1], [1962.5, -0.2], [1963.7, -0.15], [1965, -0.3], [1966.3, -0.2],
  [1967.5, -0.05], [1968.7, 0.0], [1970, -0.5], [1971.3, -0.35], [1972.5, -0.3], [1973.7, -0.2], [1975, 0.0],
  [1976.3, 0.1], [1977.5, 0.3], [1978.7, 0.3], [1980, 0.35], [1981.3, 0.3], [1982.5, 0.45], [1983.7, 0.35],
  [1985, 0.45], [1986.3, 0.3], [1987.5, 0.5], [1988.7, 0.1], [1990, 0.35], [1991.3, 0.15], [1992.5, 0.25],
  [1993.7, 0.05], [1995, 0.1], [1996.3, -0.1], [1997.5, -0.25], [1998.7, -0.45], [2000, 0.05], [2001.3, 0.1],
  [2002.5, 0.3], [2003, 0.15],
];
const nidelvaFit: Pt[] = [[1876.3, 0], [1910.8, 0], [1910.8, 0.12], [2003, 0.12]];
const nidelvaHi: Pt[] = [
  [1876.3, 1.15], [1877.5, 1.2], [1878.7, 1.15], [1880, 1.25], [1881.3, 1.45], [1882.5, 1.2], [1884.2, 1.05],
  [1885.8, 0.95], [1887.5, 0.95], [1889.2, 1.05], [1890.8, 1.25], [1892.5, 1.05], [1894.2, 0.85], [1895.8, 1.0],
  [1897.5, 1.25], [1899.2, 1.1], [1900.8, 1.25], [1902.5, 1.3], [1904.2, 1.3], [1905.8, 1.2], [1907.5, 1.4],
  [1909.2, 1.1], [1910.8, 0.85], [1912.5, 0.75], [1913.7, 0.5], [1915.3, 0.9], [1916.7, 1.05], [1918.3, 1.1],
  [1920, 1.0], [1922, 1.25], [1923.3, 1.6], [1925.3, 1.45], [1927, 1.35], [1928.7, 1.3], [1930.8, 1.2],
  [1933.3, 1.05], [1935.8, 0.95], [1937.5, 0.6], [1938.7, 0.9], [1940.3, 1.55], [1942, 1.35], [1943.3, 1.3],
  [1945, 1.15], [1946.7, 1.35], [1948.7, 1.6], [1950.3, 1.65], [1952.5, 1.5], [1954.2, 1.4], [1955.8, 1.3],
  [1957.5, 1.25], [1959.2, 1.1], [1960.8, 1.05], [1962.5, 0.95], [1964.2, 0.85], [1966.7, 1.0], [1968.3, 1.1],
  [1970, 0.65], [1971.7, 0.8], [1973.3, 1.05], [1975, 1.05], [1976.7, 1.45], [1978.7, 1.5], [1980.3, 1.55],
  [1982.5, 1.65], [1984.2, 1.6], [1985.8, 1.45], [1987.5, 1.45], [1989.2, 1.3], [1990.8, 1.4], [1992.5, 1.3],
  [1994.2, 1.2], [1995.8, 1.1], [1997.5, 0.85], [1998.7, 0.65], [2000, 1.0], [2001.3, 1.15], [2003, 1.3],
];
const nidelvaLo: Pt[] = [
  [1876.3, -1.15], [1877.5, -1.0], [1878.7, -1.05], [1880, -0.8], [1881.3, -0.75], [1882.5, -0.95], [1884.2, -1.05],
  [1885.8, -1.25], [1887.5, -1.3], [1889.2, -1.1], [1890.8, -1.0], [1892.5, -1.15], [1894.2, -1.45], [1895.8, -1.1],
  [1897.5, -0.9], [1899.2, -1.0], [1900.8, -0.95], [1902.5, -0.85], [1904.2, -0.95], [1905.8, -0.85], [1907.5, -0.75],
  [1909.2, -0.95], [1910.8, -1.25], [1912.5, -1.45], [1913.7, -1.75], [1915.3, -1.35], [1916.7, -1.2], [1918.3, -1.1],
  [1920, -1.0], [1922, -0.8], [1923.3, -0.6], [1925.3, -0.75], [1927, -0.8], [1928.7, -1.0], [1930.8, -1.05],
  [1933.3, -1.15], [1935.8, -1.2], [1937.5, -1.7], [1938.7, -1.3], [1940.3, -0.65], [1942, -0.8], [1943.3, -0.9],
  [1945, -1.05], [1946.7, -0.8], [1948.7, -0.6], [1950.3, -0.5], [1952.5, -0.7], [1954.2, -0.8], [1955.8, -0.9],
  [1957.5, -1.0], [1959.2, -1.15], [1960.8, -1.2], [1962.5, -1.3], [1964.2, -1.35], [1966.7, -1.25], [1968.3, -1.15],
  [1970, -1.55], [1971.7, -1.35], [1973.3, -1.1], [1975, -1.05], [1976.7, -0.75], [1978.7, -0.7], [1980.3, -0.7],
  [1982.5, -0.65], [1984.2, -0.7], [1985.8, -0.8], [1987.5, -0.85], [1989.2, -0.95], [1990.8, -0.9], [1992.5, -1.05],
  [1994.2, -1.1], [1995.8, -1.15], [1997.5, -1.3], [1998.7, -1.5], [2000, -1.2], [2001.3, -1.05], [2003, -0.8],
];

const PANELS = [
  { name: "Alta", obs: altaObs, fit: altaFit, hi: altaHi, lo: altaLo },
  { name: "Neiden", obs: neidenObs, fit: neidenFit, hi: neidenHi, lo: neidenLo },
  { name: "Repparfjordelva", obs: reppObs, fit: reppFit, hi: reppHi, lo: reppLo },
  { name: "Orkla", obs: orklaObs, fit: orklaFit, hi: orklaHi, lo: orklaLo },
  { name: "Surna", obs: surnaObs, fit: surnaFit, hi: surnaHi, lo: surnaLo },
  { name: "Gaula", obs: gaulaObs, fit: gaulaFit, hi: gaulaHi, lo: gaulaLo },
  { name: "Rauma", obs: raumaObs, fit: raumaFit, hi: raumaHi, lo: raumaLo },
  { name: "Namsen", obs: namsenObs, fit: namsenFit, hi: namsenHi, lo: namsenLo },
  { name: "Nidelva", obs: nidelvaObs, fit: nidelvaFit, hi: nidelvaHi, lo: nidelvaLo },
];

const COL_X = [111, 393, 674];
const ROW_Y = [9, 292, 575];
const PW = 282;
const PH = 283;
const Y_GUTTER = 111;
const X_GUTTER = 80;

const rows = (pts: Pt[]) => pts.map(([year, v]) => ({ year, v }));

function YTick(props: any) {
  const { x, y, payload, showLabel } = props;
  return (
    <g>
      <line x1={x} x2={x + 8} y1={y} y2={y} stroke={INK} strokeWidth={2} />
      {showLabel && (
        <text x={x - 19} y={y + 7} textAnchor="end" fontSize={20} fontFamily={FONT} fill={INK}>
          {payload.value}
        </text>
      )}
    </g>
  );
}

function XTick(props: any) {
  const { x, y, payload, showLabel } = props;
  return (
    <g>
      <line x1={x} x2={x} y1={y} y2={y - 8} stroke={INK} strokeWidth={2} />
      {showLabel && (
        <text
          transform={`translate(${x + 6},${y + 27}) rotate(-45)`}
          textAnchor="end"
          fontSize={20}
          fontFamily={FONT}
          fill={INK}
        >
          {payload.value}
        </text>
      )}
    </g>
  );
}

function Panel({ idx }: { idx: number }) {
  const p = PANELS[idx];
  const col = idx % 3;
  const row = Math.floor(idx / 3);
  const leftCol = col === 0;
  const bottomRow = row === 2;
  const w = PW + (leftCol ? Y_GUTTER : 0);
  const h = PH + (bottomRow ? X_GUTTER : 0);
  return (
    <div style={{ position: "absolute", left: leftCol ? 0 : COL_X[col], top: ROW_Y[row] }}>
      <LineChart width={w} height={h} margin={{ top: 0, right: 0, bottom: 0, left: 0 }}>
        <XAxis
          dataKey="year"
          type="number"
          domain={[1870, 2010.5]}
          ticks={YEAR_TICKS}
          interval={0}
          height={bottomRow ? X_GUTTER : 0}
          axisLine={false}
          tickLine={false}
          tickSize={0}
          tickMargin={0}
          allowDataOverflow
          tick={(t: any) => <XTick {...t} showLabel={bottomRow} />}
        />
        <YAxis
          type="number"
          domain={[-3.23, 3.23]}
          ticks={CATCH_TICKS}
          interval={0}
          width={leftCol ? Y_GUTTER : 0}
          axisLine={false}
          tickLine={false}
          tickSize={0}
          tickMargin={0}
          allowDataOverflow
          tick={(t: any) => <YTick {...t} showLabel={leftCol} />}
        />
        <Line data={rows(p.hi)} dataKey="v" stroke="#2a2a2a" strokeWidth={1.1} strokeDasharray="4 3"
          dot={false} isAnimationActive={false} connectNulls={false} />
        <Line data={rows(p.lo)} dataKey="v" stroke="#2a2a2a" strokeWidth={1.1} strokeDasharray="4 3"
          dot={false} isAnimationActive={false} connectNulls={false} />
        <Line data={rows(p.fit)} dataKey="v" stroke={INK} strokeWidth={4.5} dot={false}
          isAnimationActive={false} connectNulls={false} />
        <Line data={rows(p.obs)} dataKey="v" stroke={INK} strokeWidth={2} dot={false}
          isAnimationActive={false} connectNulls={false} />
      </LineChart>
    </div>
  );
}

export default function App() {
  const frameRight = COL_X[2] + PW;
  const frameBottom = ROW_Y[2] + PH;
  return (
    <div style={{ position: "absolute", left: 0, top: 0, width: 948, height: 970, overflow: "hidden", background: "#fff" }}>
      <style>{".recharts-surface { overflow: visible; }"}</style>
      {PANELS.map((_, i) => (
        <Panel key={i} idx={i} />
      ))}
      <svg width={948} height={970} style={{ position: "absolute", left: 0, top: 0, pointerEvents: "none" }}>
        {[...ROW_Y, frameBottom].map((y) => (
          <line key={"h" + y} x1={COL_X[0]} x2={frameRight} y1={y} y2={y} stroke="#2b2b2b" strokeWidth={3} />
        ))}
        {[...COL_X, frameRight].map((x) => (
          <line key={"v" + x} x1={x} x2={x} y1={ROW_Y[0]} y2={frameBottom} stroke="#2b2b2b" strokeWidth={3} />
        ))}
        {PANELS.map((p, i) => (
          <text key={p.name} x={COL_X[i % 3] + 22} y={ROW_Y[Math.floor(i / 3)] + 34}
            fontSize={28} fontFamily={FONT} fill={INK}>
            {p.name}
          </text>
        ))}
        <text transform="translate(35,443) rotate(-90)" textAnchor="middle" fontSize={31} fontFamily={FONT}
          fill={INK} textLength={388} lengthAdjust="spacingAndGlyphs">
          Standardized annual catch
        </text>
        <text x={527} y={958} textAnchor="middle" fontSize={28} fontFamily={FONT} fill={INK}>
          Year
        </text>
      </svg>
    </div>
  );
}
